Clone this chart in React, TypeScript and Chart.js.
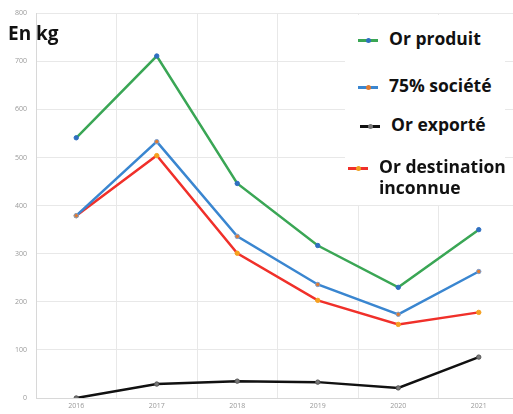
import React, { useEffect, useRef } from "react";
import { Chart, registerables } from "chart.js";

Chart.register(...registerables);

const years = ["2016", "2017", "2018", "2019", "2020", "2021"];
const orProduit = [541, 711, 446, 317, 230, 350];
const societe75 = [379, 533, 336, 236, 174, 263];
const orExporte = [0, 29, 35, 33, 21, 85];
const orInconnue = [379, 504, 301, 203, 153, 178];
const yTicks = [0, 100, 200, 300, 400, 500, 600, 700, 800];

const legendItems = [
  { label: ["Or produit"], line: "#3aa655", dot: "#2f6fc0", top: 28, left: 358 },
  { label: ["75% société"], line: "#3a86d0", dot: "#e07a30", top: 75, left: 358 },
  { label: ["Or exporté"], line: "#111111", dot: "#777777", top: 114, left: 360 },
  { label: ["Or destination", "inconnue"], line: "#f0302a", dot: "#f0a020", top: 156, left: 348 },
];

export default function App() {
  const ref = useRef<HTMLCanvasElement>(null);
  useEffect(() => {
    if (!ref.current) return;
    const chart = new Chart(ref.current, {
      type: "line",
      data: {
        labels: years,
        datasets: [
          { label: "Or produit", data: orProduit, borderColor: "#3aa655", pointBackgroundColor: "#2f6fc0", pointBorderColor: "#2f6fc0" },
          { label: "75% société", data: societe75, borderColor: "#3a86d0", pointBackgroundColor: "#e07a30", pointBorderColor: "#7a9ed0" },
          { label: "Or exporté", data: orExporte, borderColor: "#111111", pointBackgroundColor: "#777777", pointBorderColor: "#555555" },
          { label: "Or destination inconnue", data: orInconnue, borderColor: "#f0302a", pointBackgroundColor: "#f5a020", pointBorderColor: "#f5a020" },
        ].map((d) => ({ ...d, borderWidth: 2.5, pointRadius: 2.2, pointBorderWidth: 1, tension: 0, fill: false })),
      },
      options: {
        animation: false,
        responsive: false,
        layout: { padding: { top: 12, right: 0, bottom: 0, left: 0 } },
        plugins: { legend: { display: false }, tooltip: { enabled: false } },
        scales: {
          x: {
            offset: true,
            grid: { offset: true, color: "#e8e8e8", drawTicks: false },
            border: { color: "#d8d8d8" },
            ticks: { color: "#999", font: { size: 7, family: "Open Sans" }, padding: 4, maxRotation: 0 },
            afterFit: (s: any) => { s.height = 16; },
          },
          y: {
            min: 0,
            max: 800,
            afterBuildTicks: (s: any) => { s.ticks = yTicks.map((v) => ({ value: v })); },
            grid: { color: "#e8e8e8", drawTicks: false },
            border: { color: "#d8d8d8" },
            ticks: { color: "#999", font: { size: 7, family: "Open Sans" }, padding: 9 },
            afterFit: (s: any) => { s.width = 36; },
          },
        },
      },
    });
    return () => chart.destroy();
  }, []);

  return (
    <div style={{ position: "fixed", left: 0, top: 0, width: 513, height: 414, overflow: "hidden", background: "#fff" }}>
      <canvas ref={ref} width={524} height={414} style={{ position: "absolute", left: 0, top: 0 }} />
      <div style={{ position: "absolute", left: 8, top: 20, font: "bold 19px 'Open Sans'", color: "#111" }}>En kg</div>
      <div style={{ position: "absolute", left: 345, top: 15, width: 160, height: 190, background: "#fff" }} />
      {legendItems.map((it, i) => (
        <div key={i} style={{ position: "absolute", left: it.left, top: it.top, display: "flex", alignItems: "flex-start" }}>
          <div style={{ position: "relative", width: 20, height: 24, marginRight: 11 }}>
            <div style={{ position: "absolute", left: 0, top: 11, width: 20, height: 2.5, background: it.line }} />
            <div style={{ position: "absolute", left: 8, top: 10, width: 5, height: 5, borderRadius: 3, background: it.dot }} />
          </div>
          <div style={{ font: "bold 17.5px 'Open Sans'", color: "#111", lineHeight: "21px" }}>
            {it.label.map((l, j) => (
              <div key={j}>{l}</div>
            ))}
          </div>
        </div>
      ))}
    </div>
  );
}
